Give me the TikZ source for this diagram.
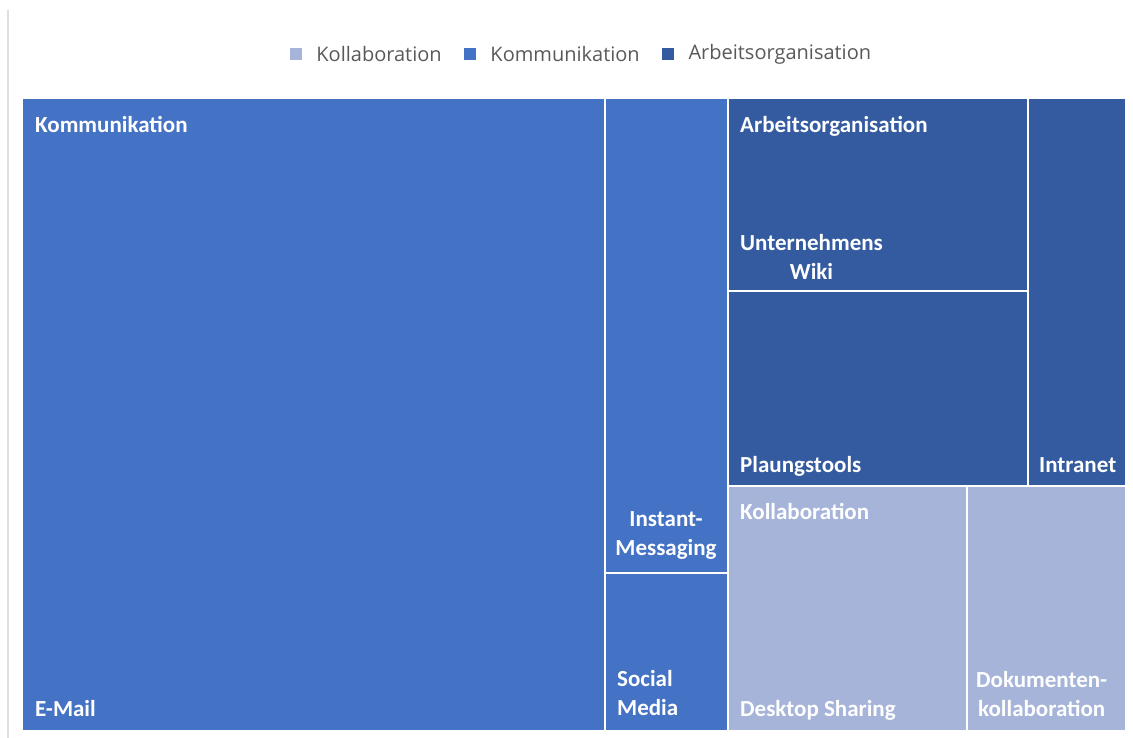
\documentclass[tikz,border=0pt]{standalone}
\usepackage{fontspec}
\setmainfont{Carlito}
\newfontfamily\legendfont{Open Sans}
\usetikzlibrary{positioning}
\definecolor{komblue}{HTML}{4472C4}
\definecolor{arbblue}{HTML}{345B9F}
\definecolor{kolblue}{HTML}{A6B4D9}
\definecolor{legendgray}{HTML}{595959}
\begin{document}
\begin{tikzpicture}[x=1pt, y=-1pt,
    tile/.style={draw=white, line width=2pt},
    lbl/.style={text=white, font=\fontsize{23}{29}\selectfont\bfseries, inner sep=0pt},
    swatch/.style={minimum size=12pt, inner sep=0pt},
    legtext/.style={text=legendgray, font=\legendfont\fontsize{20}{22}\selectfont, inner sep=0pt}]
	\useasboundingbox (0,0) rectangle (1133,738);
	\draw[gray!25, line width=1.5pt] (8,10) -- (8,738);
	% legend
	\node[swatch, fill=kolblue] (swkol) at (296,54) {};
	\node[legtext, right=14pt of swkol] (legkol) {Kollaboration};
	\node[swatch, fill=komblue, right=22pt of legkol] (swkom) {};
	\node[legtext, right=14pt of swkom] (legkom) {Kommunikation};
	\node[swatch, fill=arbblue, right=22pt of legkom] (swarb) {};
	\node[legtext, right=14pt of swarb] (legarb) {Arbeitsorganisation};
	% Kommunikation
	\filldraw[tile, fill=komblue] (22,98) rectangle (605,731);
	\filldraw[tile, fill=komblue] (605,98) rectangle (728,573);
	\filldraw[tile, fill=komblue] (605,573) rectangle (728,731);
	% Arbeitsorganisation
	\filldraw[tile, fill=arbblue] (728,98) rectangle (1028,291);
	\filldraw[tile, fill=arbblue] (728,291) rectangle (1028,486);
	\filldraw[tile, fill=arbblue] (1028,98) rectangle (1126,486);
	% Kollaboration
	\filldraw[tile, fill=kolblue] (728,486) rectangle (967,731);
	\filldraw[tile, fill=kolblue] (967,486) rectangle (1126,731);
	% labels
	\node[lbl, anchor=base west] (komhead) at (35,133) {Kommunikation};
	\node[lbl, anchor=base west] (email) at (35,716) {E-Mail};
	\node[lbl, align=center] (instant) at (666,535) {Instant-\\Messaging};
	\node[lbl, align=left, anchor=west] (social) at (617,693) {Social\\Media};
	\node[lbl, anchor=base west] (arbhead) at (740,133) {Arbeitsorganisation};
	\node[lbl, align=center, anchor=west] (wiki) at (740,257) {Unternehmens\\Wiki};
	\node[lbl, anchor=base west] (planung) at (740,472) {Plaungstools};
	\node[lbl, anchor=base west] (intranet) at (1039,472) {Intranet};
	\node[lbl, anchor=base west] (kolhead) at (740,519) {Kollaboration};
	\node[lbl, anchor=base west] (desktop) at (740,716) {Desktop Sharing};
	\node[lbl, align=center, anchor=west] (doku) at (976,694) {Dokumenten-\\kollaboration};
\end{tikzpicture}
\end{document}
